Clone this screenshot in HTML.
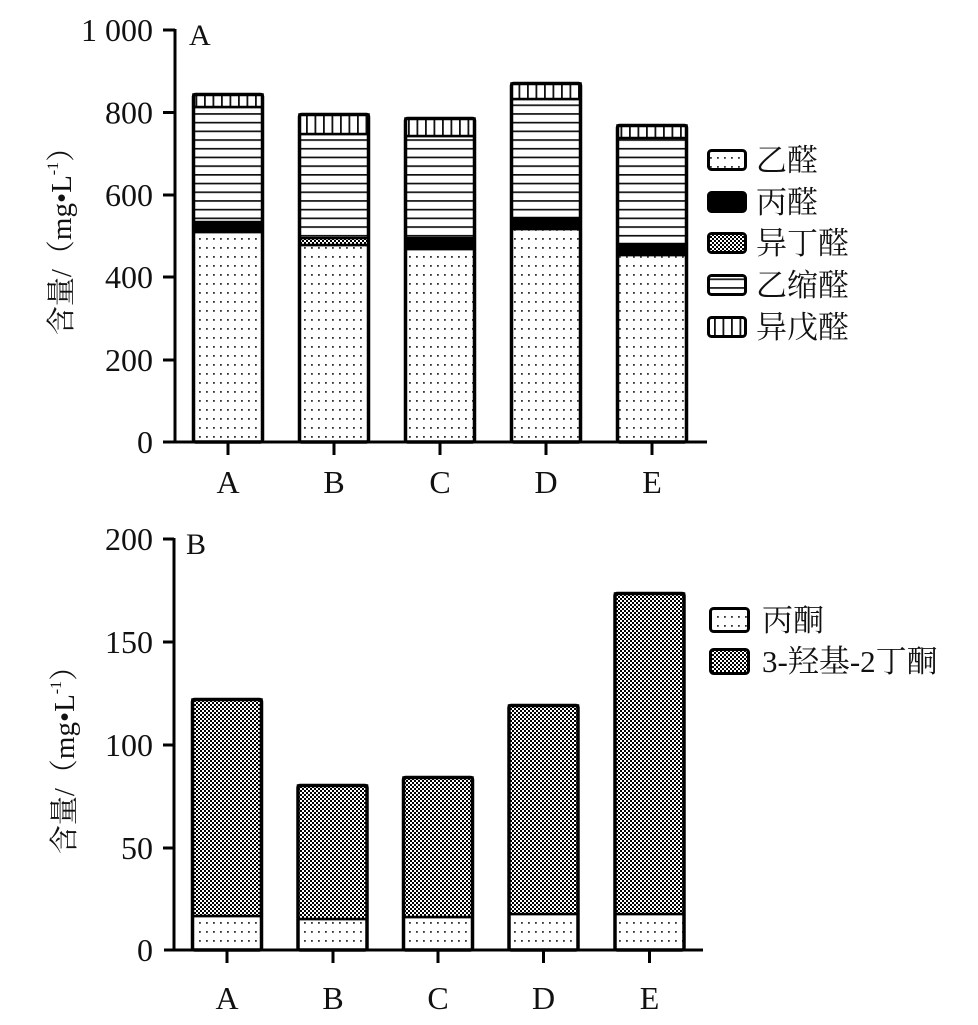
<!DOCTYPE html>
<html><head><meta charset="utf-8"><style>
html,body{margin:0;padding:0;background:#fff;}
svg{display:block;}
text{font-family:"Liberation Serif","Noto Serif CJK SC",serif;fill:#111;}
</style></head><body>
<svg width="978" height="1025" viewBox="0 0 978 1025" xmlns="http://www.w3.org/2000/svg">
<defs>
<pattern id="dots" width="7" height="9" patternUnits="userSpaceOnUse">
<rect width="7" height="9" fill="#fff"/>
<rect x="3" y="4" width="1.8" height="1.8" fill="#333"/>
</pattern>
<pattern id="chk" width="4" height="4" patternUnits="userSpaceOnUse">
<rect width="4" height="4" fill="#000"/>
<rect x="0" y="0" width="2" height="2" fill="#fff"/>
<rect x="2" y="2" width="2" height="2" fill="#fff"/>
</pattern>
<pattern id="hl" width="10" height="8.7" patternUnits="userSpaceOnUse">
<rect width="10" height="8.7" fill="#fff"/>
<rect y="0" width="10" height="1.7" fill="#111"/>
</pattern>
<pattern id="vl" width="8.5" height="10" patternUnits="userSpaceOnUse">
<rect width="8.5" height="10" fill="#fff"/>
<rect x="0" width="1.8" height="10" fill="#111"/>
</pattern>
</defs>

<!-- ===== Chart A ===== -->
<g stroke="#000" stroke-width="3" fill="none">
<line x1="175" y1="29" x2="175" y2="443"/>
<line x1="163" y1="442" x2="707" y2="442"/>
<line x1="163" y1="30" x2="175" y2="30"/>
<line x1="163" y1="112.5" x2="175" y2="112.5"/>
<line x1="163" y1="195" x2="175" y2="195"/>
<line x1="163" y1="277" x2="175" y2="277"/>
<line x1="163" y1="360" x2="175" y2="360"/>
<line x1="228" y1="442" x2="228" y2="455"/>
<line x1="334" y1="442" x2="334" y2="455"/>
<line x1="440" y1="442" x2="440" y2="455"/>
<line x1="546" y1="442" x2="546" y2="455"/>
<line x1="652" y1="442" x2="652" y2="455"/>
</g>
<g font-size="32" text-anchor="end">
<text x="153" y="41">1 000</text>
<text x="153" y="123.5">800</text>
<text x="153" y="206">600</text>
<text x="153" y="288">400</text>
<text x="153" y="371">200</text>
<text x="153" y="453">0</text>
</g>
<g font-size="32" text-anchor="middle">
<text x="228" y="493">A</text>
<text x="334" y="493">B</text>
<text x="440" y="493">C</text>
<text x="546" y="493">D</text>
<text x="652" y="493">E</text>
</g>
<text x="189" y="45" font-size="30">A</text>
<text transform="translate(62,234) rotate(-90)" text-anchor="middle" font-size="29" dominant-baseline="central">含量/（mg•L<tspan baseline-shift="super" font-size="16">-1</tspan>）</text>

<!-- bars A -->
<g stroke="#000" stroke-width="2.5">
<rect x="193.5" y="232" width="69" height="210" fill="url(#dots)"/>
<rect x="193.5" y="222" width="69" height="10" fill="#000"/>
<rect x="193.5" y="107" width="69" height="115" fill="url(#hl)"/>
<rect x="193.5" y="94.5" width="69" height="12.5" fill="url(#vl)"/>
<rect x="299.5" y="245" width="69" height="197" fill="url(#dots)"/>
<rect x="299.5" y="238" width="69" height="7" fill="url(#chk)"/>
<rect x="299.5" y="134" width="69" height="104" fill="url(#hl)"/>
<rect x="299.5" y="114.5" width="69" height="19.5" fill="url(#vl)"/>
<rect x="405.5" y="249" width="69" height="193" fill="url(#dots)"/>
<rect x="405.5" y="238" width="69" height="11" fill="#000"/>
<rect x="405.5" y="136" width="69" height="102" fill="url(#hl)"/>
<rect x="405.5" y="118.5" width="69" height="17.5" fill="url(#vl)"/>
<rect x="511.5" y="229" width="69" height="213" fill="url(#dots)"/>
<rect x="511.5" y="218" width="69" height="11" fill="#000"/>
<rect x="511.5" y="99" width="69" height="119" fill="url(#hl)"/>
<rect x="511.5" y="83.5" width="69" height="15.5" fill="url(#vl)"/>
<rect x="617.5" y="255" width="69" height="187" fill="url(#dots)"/>
<rect x="617.5" y="244" width="69" height="11" fill="#000"/>
<rect x="617.5" y="138" width="69" height="106" fill="url(#hl)"/>
<rect x="617.5" y="125.5" width="69" height="12.5" fill="url(#vl)"/>
</g>
<g fill="none" stroke="#000" stroke-width="3.5">
<rect x="193.5" y="94.5" width="69" height="347.5" rx="2"/>
<rect x="299.5" y="114.5" width="69" height="327.5" rx="2"/>
<rect x="405.5" y="118.5" width="69" height="323.5" rx="2"/>
<rect x="511.5" y="83.5" width="69" height="358.5" rx="2"/>
<rect x="617.5" y="125.5" width="69" height="316.5" rx="2"/>
</g>

<!-- legend A -->
<g stroke="#000" stroke-width="3">
<rect x="708.5" y="150.5" width="37" height="19" rx="3" fill="url(#dots)"/>
<rect x="708.5" y="192.5" width="37" height="19" rx="3" fill="#000"/>
<rect x="708.5" y="233.5" width="37" height="19" rx="3" fill="url(#chk)"/>
<rect x="708.5" y="275.5" width="37" height="19" rx="3" fill="url(#hl)"/>
<rect x="708.5" y="317.5" width="37" height="19" rx="3" fill="url(#vl)"/>
</g>
<g font-size="31">
<text x="756" y="171">乙醛</text>
<text x="756" y="213">丙醛</text>
<text x="756" y="254">异丁醛</text>
<text x="756" y="296">乙缩醛</text>
<text x="756" y="338">异戊醛</text>
</g>

<!-- ===== Chart B ===== -->
<g stroke="#000" stroke-width="3" fill="none">
<line x1="174" y1="538" x2="174" y2="951"/>
<line x1="164" y1="950" x2="703" y2="950"/>
<line x1="163" y1="539" x2="174" y2="539"/>
<line x1="163" y1="642" x2="174" y2="642"/>
<line x1="163" y1="745" x2="174" y2="745"/>
<line x1="163" y1="848" x2="174" y2="848"/>
<line x1="227" y1="950" x2="227" y2="963"/>
<line x1="333" y1="950" x2="333" y2="963"/>
<line x1="438" y1="950" x2="438" y2="963"/>
<line x1="543.5" y1="950" x2="543.5" y2="963"/>
<line x1="649.5" y1="950" x2="649.5" y2="963"/>
</g>
<g font-size="32" text-anchor="end">
<text x="153" y="550">200</text>
<text x="153" y="653">150</text>
<text x="153" y="756">100</text>
<text x="153" y="859">50</text>
<text x="153" y="961">0</text>
</g>
<g font-size="32" text-anchor="middle">
<text x="227" y="1009">A</text>
<text x="333" y="1009">B</text>
<text x="438" y="1009">C</text>
<text x="543.5" y="1009">D</text>
<text x="649.5" y="1009">E</text>
</g>
<text x="186" y="554" font-size="30">B</text>
<text transform="translate(65,753) rotate(-90)" text-anchor="middle" font-size="29" dominant-baseline="central">含量/（mg•L<tspan baseline-shift="super" font-size="16">-1</tspan>）</text>

<g stroke="#000" stroke-width="2.5">
<rect x="192.5" y="916" width="69" height="34" fill="url(#dots)"/>
<rect x="192.5" y="699.5" width="69" height="216.5" fill="url(#chk)"/>
<rect x="298" y="919" width="69" height="31" fill="url(#dots)"/>
<rect x="298" y="785.5" width="69" height="133.5" fill="url(#chk)"/>
<rect x="403.5" y="917" width="69" height="33" fill="url(#dots)"/>
<rect x="403.5" y="777.5" width="69" height="139.5" fill="url(#chk)"/>
<rect x="509" y="914" width="69" height="36" fill="url(#dots)"/>
<rect x="509" y="705.5" width="69" height="208.5" fill="url(#chk)"/>
<rect x="615" y="914" width="69" height="36" fill="url(#dots)"/>
<rect x="615" y="593.5" width="69" height="320.5" fill="url(#chk)"/>
</g>
<g fill="none" stroke="#000" stroke-width="3.5">
<rect x="192.5" y="699.5" width="69" height="250.5" rx="2"/>
<rect x="298" y="785.5" width="69" height="164.5" rx="2"/>
<rect x="403.5" y="777.5" width="69" height="172.5" rx="2"/>
<rect x="509" y="705.5" width="69" height="244.5" rx="2"/>
<rect x="615" y="593.5" width="69" height="356.5" rx="2"/>
</g>

<!-- legend B -->
<g stroke="#000" stroke-width="3">
<rect x="710.5" y="608.5" width="38" height="23" rx="3" fill="url(#dots)"/>
<rect x="710.5" y="649.5" width="38" height="24" rx="3" fill="url(#chk)"/>
</g>
<g font-size="31">
<text x="762" y="631">丙酮</text>
<text x="762" y="672">3-羟基-2丁酮</text>
</g>
</svg>
</body></html>
